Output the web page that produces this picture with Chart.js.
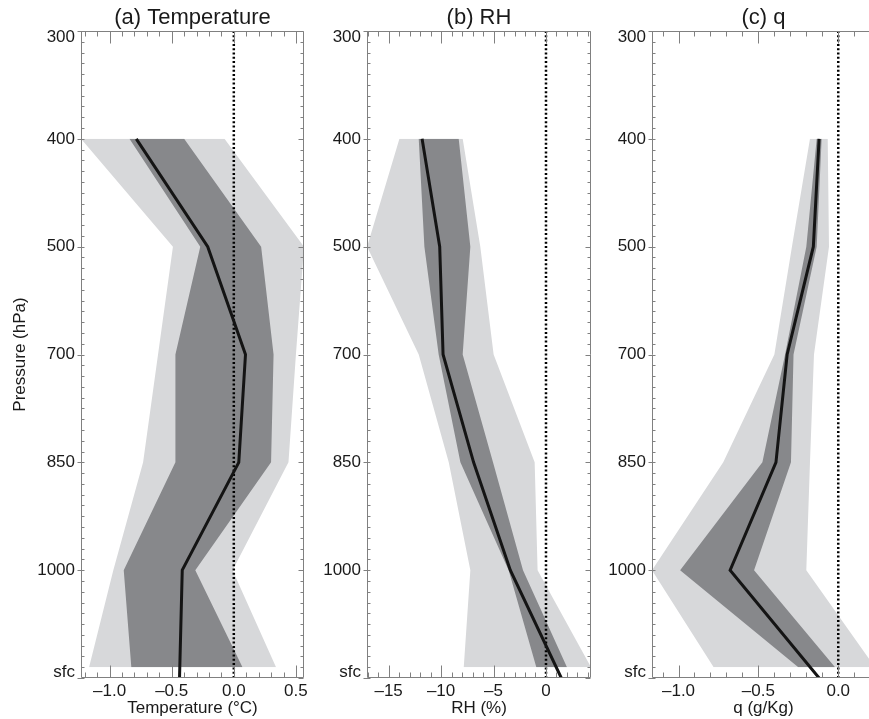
<!DOCTYPE html>
<html><head><meta charset="utf-8">
<script src="https://cdn.jsdelivr.net/npm/chart.js@4/dist/chart.umd.min.js"></script>
<style>
html,body{margin:0;padding:0;background:#fff;overflow:hidden;width:869px;height:719px;position:relative;}
canvas{position:absolute;top:0;}
</style></head><body>
<canvas id="ca" width="316" height="719" style="left:0px"></canvas>
<canvas id="cb" width="290" height="719" style="left:310px"></canvas>
<canvas id="cc" width="285" height="719" style="left:598px"></canvas>
<script>
// Pressure levels (category positions along the vertical axis, top to bottom)
const levelLabels = ['300', '400', '500', '700', '850', '1000', 'sfc'];
const levelIndex = [0, 1, 2, 3, 4, 5, 6];
const profileLevels = [1, 2, 3, 4, 5, 6];      // 400 ... sfc for the mean profile
const bandLevels = [1, 2, 3, 4, 5, 5.9];       // bands stop just above sfc

// (a) Temperature (°C)
const tempMean   = [-0.785, -0.21, 0.094, 0.04, -0.415, -0.437];
const tempDarkLo = [-0.84, -0.27, -0.47, -0.47, -0.886, -0.825];
const tempDarkHi = [-0.40, 0.22, 0.32, 0.30, -0.31, 0.07];
const tempLightLo = [-1.23, -0.49, -0.61, -0.73, -0.97, -1.165];
const tempLightHi = [-0.075, 0.565, 0.50, 0.44, -0.01, 0.34];
const tempTicks = [-1.0, -0.5, 0.0, 0.5];

// (b) RH (%)
const rhMean   = [-11.81, -10.13, -9.81, -6.9, -3.4, 1.46];
const rhDarkLo = [-12.13, -11.59, -10.23, -8.16, -3.56, -0.92];
const rhDarkHi = [-8.32, -7.21, -7.94, -5.05, -2.19, 2.0];
const rhLightLo = [-13.97, -17.05, -12.13, -9.27, -7.21, -7.84];
const rhLightHi = [-7.94, -6.26, -4.99, -1.08, -0.8, 4.29];
const rhTicks = [-15, -10, -5, 0];

// (c) q (g/Kg)
const qMean   = [-0.12, -0.156, -0.32, -0.39, -0.677, -0.12];
const qDarkLo = [-0.135, -0.2, -0.333, -0.475, -0.99, -0.25];
const qDarkHi = [-0.104, -0.135, -0.28, -0.296, -0.527, -0.02];
const qLightLo = [-0.177, -0.29, -0.40, -0.72, -1.166, -0.78];
const qLightHi = [-0.066, -0.058, -0.152, -0.177, -0.2, 0.23];
const qTicks = [-1.0, -0.5, 0.0];

const FONT = "'Liberation Sans', Arial, Helvetica, sans-serif";
Chart.defaults.font.family = FONT;
Chart.defaults.color = '#1a1a1a';

const LIGHT = '#d7d8da';
const DARK = '#87888b';
const FRAME = '#808080';

const framePlugin = {
  id: 'frame',
  afterDraw(chart, args, o) {
    const {ctx, chartArea: a} = chart;
    const xs = chart.scales.x, ys = chart.scales.y;
    const L = Math.round(a.left) + 0.5, R = Math.round(a.right) - 0.5;
    const T = Math.round(a.top) + 0.5, B = Math.round(a.bottom) - 0.5;
    ctx.save();
    ctx.strokeStyle = FRAME;
    ctx.lineWidth = 1;
    ctx.beginPath();
    ctx.rect(L, T, R - L, B - T);
    // x ticks, top and bottom
    const k0 = Math.ceil(xs.min / o.xMinor - 1e-6), k1 = Math.floor(xs.max / o.xMinor + 1e-6);
    for (let k = k0; k <= k1; k++) {
      const px = Math.round(xs.getPixelForValue(k * o.xMinor)) + 0.5;
      const len = (k % o.ratio === 0) ? 12 : 5;
      ctx.moveTo(px, T); ctx.lineTo(px, T + len);
      ctx.moveTo(px, B); ctx.lineTo(px, B - len);
    }
    // y ticks, left and right
    for (let k = 0; k <= 60; k++) {
      const py = Math.round(ys.getPixelForValue(k / 10)) + 0.5;
      if (k % 10 === 0) {
        ctx.moveTo(L - 4, py); ctx.lineTo(L + 3, py);
        ctx.moveTo(R, py); ctx.lineTo(R - 5, py);
      } else {
        ctx.moveTo(L, py); ctx.lineTo(L + 3, py);
        ctx.moveTo(R, py); ctx.lineTo(R - 3, py);
      }
    }
    ctx.stroke();
    ctx.restore();
  }
};

function pts(levels, vals) {
  return vals.map((v, i) => ({x: v, y: levels[i]}));
}

function makePanel(id, c) {
  const fmt = v => (c.decimals ? v.toFixed(c.decimals) : String(Math.round(v))).replace('-', '\u2013');
  new Chart(document.getElementById(id), {
    type: 'line',
    data: {
      datasets: [
        {data: pts(profileLevels, c.mean), borderColor: '#141414', borderWidth: 3, order: 0},
        {data: [{x: 0, y: levelIndex[0]}, {x: 0, y: levelIndex[levelIndex.length - 1]}],
         borderColor: '#000', borderWidth: 2.5, borderDash: [2, 2.3], order: 1},
        {data: pts(bandLevels, c.darkLo), borderWidth: 0, borderColor: 'rgba(0,0,0,0)', order: 2},
        {data: pts(bandLevels, c.darkHi), borderWidth: 0, borderColor: 'rgba(0,0,0,0)', fill: 2, backgroundColor: DARK, order: 2},
        {data: pts(bandLevels, c.lightLo), borderWidth: 0, borderColor: 'rgba(0,0,0,0)', order: 3},
        {data: pts(bandLevels, c.lightHi), borderWidth: 0, borderColor: 'rgba(0,0,0,0)', fill: 4, backgroundColor: LIGHT, order: 3}
      ]
    },
    options: {
      indexAxis: 'y',
      responsive: false,
      animation: false,
      events: [],
      elements: {point: {radius: 0}, line: {tension: 0, fill: false}},
      layout: {padding: {left: 0, top: 0, bottom: 0, right: c.padRight}},
      plugins: {
        legend: {display: false},
        tooltip: {enabled: false},
        frame: {xMinor: c.xMinor, ratio: c.ratio}
      },
      scales: {
        x: {
          type: 'linear', position: 'bottom', min: c.xMin, max: c.xMax,
          grid: {display: false, drawTicks: false}, border: {display: false},
          afterBuildTicks: s => { s.ticks = c.xTicks.map(v => ({value: v})); },
          afterFit: s => { s.height = 41; },
          ticks: {padding: 3, font: {size: 17}, callback: v => fmt(v)},
          title: {display: true, text: c.xTitle, font: {size: 17}, padding: {top: 0, bottom: 0}}
        },
        xTop: {
          type: 'linear', position: 'top', min: c.xMin, max: c.xMax,
          grid: {display: false, drawTicks: false}, border: {display: false},
          ticks: {display: false},
          afterFit: s => { s.height = 31; },
          title: {display: true, text: c.title, font: {size: 22}, padding: {top: 5, bottom: 0}}
        },
        y: {
          type: 'linear', position: 'left', min: 0, max: 6, reverse: true,
          grid: {display: false, drawTicks: false}, border: {display: false},
          afterBuildTicks: s => { s.ticks = levelIndex.map(v => ({value: v})); },
          afterFit: s => { s.width = c.yWidth; },
          ticks: {
            padding: 6, font: {size: 17, lineHeight: '12px'},
            callback: v => {
              const lab = levelLabels[v];
              if (v === levelIndex[0]) return ['', lab];
              if (v === levelIndex[levelIndex.length - 1]) return [lab, ''];
              return lab;
            }
          },
          title: {display: !!c.yTitle, text: c.yTitle || '', font: {size: 17}, padding: {top: 10, bottom: 0}}
        }
      }
    },
    plugins: [framePlugin]
  });
}

makePanel('ca', {
  title: '(a) Temperature', xTitle: 'Temperature (\u00B0C)', yTitle: 'Pressure (hPa)',
  xMin: -1.23, xMax: 0.565, xTicks: tempTicks, xMinor: 0.1, ratio: 5, decimals: 1,
  yWidth: 81, padRight: 12,
  mean: tempMean, darkLo: tempDarkLo, darkHi: tempDarkHi, lightLo: tempLightLo, lightHi: tempLightHi
});
makePanel('cb', {
  title: '(b) RH', xTitle: 'RH (%)',
  xMin: -17.06, xMax: 4.29, xTicks: rhTicks, xMinor: 1, ratio: 5, decimals: 0,
  yWidth: 57, padRight: 9,
  mean: rhMean, darkLo: rhDarkLo, darkHi: rhDarkHi, lightLo: rhLightLo, lightHi: rhLightHi
});
makePanel('cc', {
  title: '(c) q', xTitle: 'q (g/Kg)',
  xMin: -1.166, xMax: 0.23, xTicks: qTicks, xMinor: 0.1, ratio: 5, decimals: 1,
  yWidth: 54, padRight: 8,
  mean: qMean, darkLo: qDarkLo, darkHi: qDarkHi, lightLo: qLightLo, lightHi: qLightHi
});
</script>
</body></html>
